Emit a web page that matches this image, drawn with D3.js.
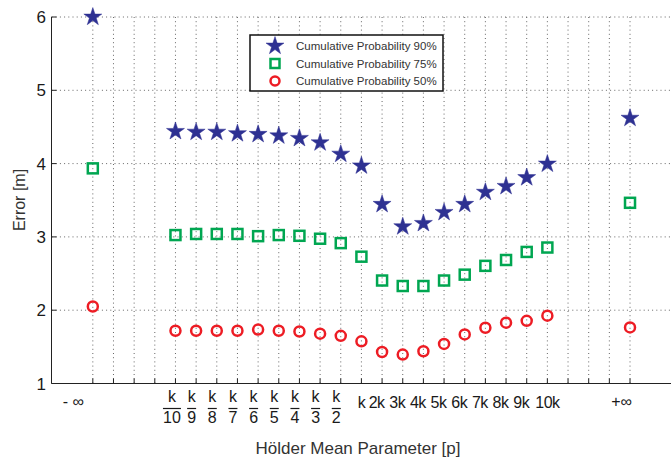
<!DOCTYPE html>
<html>
<head>
<meta charset="utf-8">
<script src="https://cdn.jsdelivr.net/npm/d3@7"></script>
<style>
  body { margin: 0; background: #fff; }
  text { font-family: "Liberation Sans", Arial, sans-serif; fill: #1a1a1a; }
</style>
</head>
<body>
<svg width="671" height="459"></svg>
<script>
// **** data ****
var tickLabels = ['-\u221e', '', '', '', 'k/10', 'k/9', 'k/8', 'k/7', 'k/6', 'k/5', 'k/4', 'k/3', 'k/2',
  'k', '2k', '3k', '4k', '5k', '6k', '7k', '8k', '9k', '10k', '', '', '', '+\u221e'];
// x slot of each measured parameter
var paramSlots = [0, 4, 5, 6, 7, 8, 9, 10, 11, 12, 13, 14, 15, 16, 17, 18, 19, 20, 21, 22, 26];
var prob90 = [6.00, 4.44, 4.43, 4.43, 4.41, 4.40, 4.38, 4.345, 4.285, 4.13, 3.97,
  3.445, 3.14, 3.185, 3.335, 3.445, 3.61, 3.69, 3.81, 3.995, 4.62];
var prob75 = [3.935, 3.025, 3.04, 3.04, 3.04, 3.01, 3.025, 3.015, 2.975, 2.915, 2.73,
  2.405, 2.33, 2.33, 2.405, 2.485, 2.605, 2.685, 2.795, 2.855, 3.465];
var prob50 = [2.05, 1.72, 1.72, 1.72, 1.72, 1.735, 1.72, 1.71, 1.68, 1.65, 1.575,
  1.43, 1.395, 1.44, 1.54, 1.67, 1.76, 1.83, 1.855, 1.925, 1.765];
var yTicks = [1, 2, 3, 4, 5, 6];
var legendLabels = ['Cumulative Probability 90%', 'Cumulative Probability 75%', 'Cumulative Probability 50%'];

var svg = d3.select('svg');

var xScale = d3.scaleLinear().domain([-2, 29]).range([51.5, 692]);
var yScale = d3.scaleLinear().domain([1, 6]).range([383.5, 17]);

var navy = '#2e3192', green = '#00a651', red = '#ed1c24';

// grid
var grid = svg.append('g').attr('class', 'grid');
grid.selectAll('.vgrid')
  .data(d3.range(tickLabels.length))
  .enter().append('line')
  .attr('x1', function(d) { return xScale(d); })
  .attr('x2', function(d) { return xScale(d); })
  .attr('y1', yScale(6)).attr('y2', yScale(1))
  .attr('stroke', '#666').attr('stroke-width', 1)
  .attr('stroke-dasharray', '1,3.2');
grid.selectAll('.hgrid')
  .data(yTicks.slice(1))
  .enter().append('line')
  .attr('x1', xScale(-2)).attr('x2', 671)
  .attr('y1', function(d) { return yScale(d); })
  .attr('y2', function(d) { return yScale(d); })
  .attr('stroke', '#666').attr('stroke-width', 1)
  .attr('stroke-dasharray', '1,3.2');

// axes lines
svg.append('line').attr('x1', xScale(-2)).attr('x2', xScale(-2))
  .attr('y1', yScale(6)).attr('y2', yScale(1)).attr('stroke', '#222');
svg.append('line').attr('x1', xScale(-2)).attr('x2', 671)
  .attr('y1', yScale(1)).attr('y2', yScale(1)).attr('stroke', '#222');

// y ticks
svg.selectAll('.ytick').data(yTicks).enter().append('line')
  .attr('x1', xScale(-2)).attr('x2', xScale(-2) + 5)
  .attr('y1', function(d) { return yScale(d); })
  .attr('y2', function(d) { return yScale(d); })
  .attr('stroke', '#222');
svg.selectAll('.ylab').data(yTicks).enter().append('text')
  .attr('x', 46).attr('y', function(d) { return yScale(d) + 6; })
  .attr('text-anchor', 'end').style('font-size', '17px')
  .text(function(d) { return d; });

// x ticks
svg.selectAll('.xtick').data(d3.range(tickLabels.length)).enter().append('line')
  .attr('x1', function(d) { return xScale(d); })
  .attr('x2', function(d) { return xScale(d); })
  .attr('y1', yScale(1)).attr('y2', yScale(1) - 5)
  .attr('stroke', '#222');

var xlab = svg.selectAll('.xlab')
  .data(tickLabels.map(function(l, i) { return {label: l, i: i}; }).filter(function(d) { return d.label; }))
  .enter().append('g')
  .attr('transform', function(d) { return 'translate(' + xScale(d.i) + ',0)'; });

xlab.each(function(d) {
  var g = d3.select(this);
  if (d.label.indexOf('/') > 0) {
    var parts = d.label.split('/');
    var dx = parts[1].length > 1 ? -3.5 : -4.5;
    g.append('text').attr('x', dx).attr('y', 402).attr('text-anchor', 'middle')
      .style('font-size', '16px').text(parts[0]);
    var w = parts[1].length * 9;
    g.append('line').attr('x1', dx - w / 2).attr('x2', dx + w / 2)
      .attr('y1', 408.5).attr('y2', 408.5).attr('stroke', '#1a1a1a').attr('stroke-width', 1.2);
    g.append('text').attr('x', dx).attr('y', 423).attr('text-anchor', 'middle')
      .style('font-size', '16px').text(parts[1]);
  } else if (d.label.indexOf('\u221e') >= 0) {
    var txt = d.label.charAt(0) === '-' ? '- \u221e' : '+\u221e';
    var off = d.label.charAt(0) === '-' ? -19.5 : -8.5;
    g.append('text').attr('x', off).attr('y', 407).attr('text-anchor', 'middle')
      .style('font-size', '16px').text(txt);
  } else {
    var dx2 = d.label.length === 2 ? -5.5 : 0;
    g.append('text').attr('x', dx2).attr('y', 408).attr('text-anchor', 'middle')
      .style('font-size', '16px').style('letter-spacing', '-0.5px').text(d.label);
  }
});

// axis titles
svg.append('text').attr('x', 358).attr('y', 454).attr('text-anchor', 'middle')
  .style('font-size', '17px').style('fill', '#333').text('H\u00f6lder Mean Parameter [p]');
svg.append('text').attr('transform', 'translate(25,200) rotate(-90)')
  .attr('text-anchor', 'middle').style('font-size', '16px').style('fill', '#333')
  .text('Error [m]');

// markers
var star = d3.symbol().type(d3.symbolStar).size(100);

svg.selectAll('.p90').data(prob90).enter().append('path')
  .attr('d', star)
  .attr('transform', function(d, i) { return 'translate(' + xScale(paramSlots[i]) + ',' + yScale(d) + ')'; })
  .attr('fill', navy).attr('stroke', navy).attr('stroke-width', 0.5);

svg.selectAll('.p75').data(prob75).enter().append('rect')
  .attr('x', function(d, i) { return xScale(paramSlots[i]) - 5; })
  .attr('y', function(d) { return yScale(d) - 5; })
  .attr('width', 10).attr('height', 10)
  .attr('fill', 'none').attr('stroke', green).attr('stroke-width', 2.5);

svg.selectAll('.p50').data(prob50).enter().append('circle')
  .attr('cx', function(d, i) { return xScale(paramSlots[i]); })
  .attr('cy', function(d) { return yScale(d); })
  .attr('r', 5)
  .attr('fill', 'none').attr('stroke', red).attr('stroke-width', 2.5);

// legend
var legend = svg.append('g').attr('transform', 'translate(250,35)');
legend.append('rect').attr('x', 0).attr('y', 0).attr('width', 193).attr('height', 56)
  .attr('fill', '#fff').attr('stroke', '#111').attr('stroke-width', 1.5);
legendLabels.forEach(function(l, i) {
  var cy = 11 + i * 17.5;
  if (i === 0) {
    legend.append('path').attr('d', star).attr('transform', 'translate(25,' + cy + ')')
      .attr('fill', navy).attr('stroke', navy).attr('stroke-width', 0.5);
  } else if (i === 1) {
    legend.append('rect').attr('x', 20.5).attr('y', cy - 4.5).attr('width', 9).attr('height', 9)
      .attr('fill', 'none').attr('stroke', green).attr('stroke-width', 2.5);
  } else {
    legend.append('circle').attr('cx', 25).attr('cy', cy).attr('r', 4.5)
      .attr('fill', 'none').attr('stroke', red).attr('stroke-width', 2.5);
  }
  legend.append('text').attr('x', 46).attr('y', cy + 4).style('font-size', '11.5px')
    .style('fill', '#333').text(l);
});
</script>
</body>
</html>
